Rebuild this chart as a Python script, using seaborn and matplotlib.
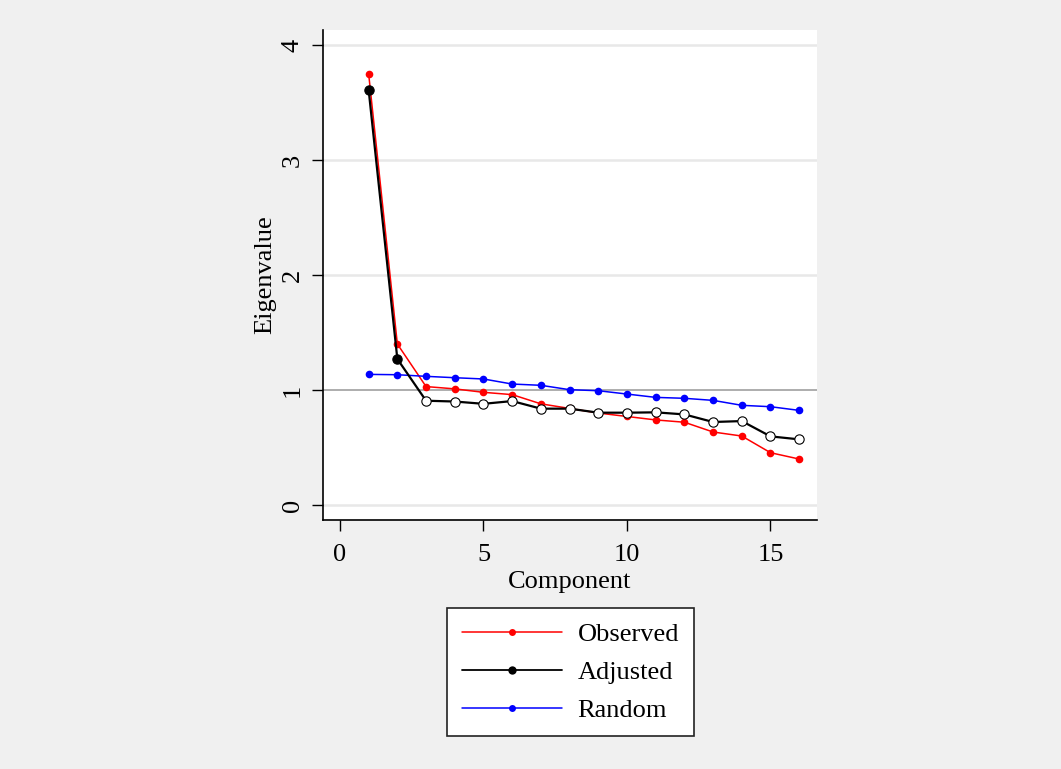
import numpy as np
import pandas as pd
import matplotlib
matplotlib.use("Agg")
import matplotlib.pyplot as plt
from matplotlib.lines import Line2D
import seaborn as sns

components = list(range(1, 17))
observed = [3.75, 1.40, 1.03, 1.01, 0.98, 0.96, 0.88, 0.84, 0.80, 0.77, 0.74, 0.72, 0.635, 0.60, 0.455, 0.40]
adjusted = [3.61, 1.27, 0.907, 0.90, 0.88, 0.904, 0.838, 0.838, 0.803, 0.803, 0.806, 0.788, 0.722, 0.73, 0.597, 0.571]
random_ev = [1.136, 1.133, 1.119, 1.107, 1.096, 1.052, 1.041, 1.003, 0.994, 0.965, 0.936, 0.928, 0.91, 0.867, 0.855, 0.823]
series_names = ["Observed", "Adjusted", "Random"]
series_colors = ["#ff0000", "#000000", "#0000ff"]

sns.set_theme(style="white")
plt.rcParams['font.family'] = ['Liberation Serif', 'DejaVu Serif']
plt.rcParams.update({"text.color": "black", "axes.labelcolor": "black",
                     "xtick.color": "black", "ytick.color": "black"})

fig = plt.figure(figsize=(10.61, 7.69), dpi=100, facecolor="#f0f0f0")
ax = fig.add_axes([323/1061, 1-520/769, (817-323)/1061, (520-30)/769])
ax.set_facecolor("white")

for yv in [0, 2, 3, 4]:
    ax.axhline(yv, color="#e8e8e8", lw=1.8, zorder=0)
ax.axhline(1, color="#a0a0a0", lw=1.2, zorder=1)

df = pd.DataFrame({"Component": components, "Observed": observed,
                   "Adjusted": adjusted, "Random": random_ev})

sns.lineplot(data=df, x="Component", y="Observed", color="#ff0000", lw=1.1,
             marker="o", markersize=5.5, markeredgewidth=0, ax=ax, zorder=3)
sns.lineplot(data=df, x="Component", y="Random", color="#0000ff", lw=1.1,
             marker="o", markersize=5.5, markeredgewidth=0, ax=ax, zorder=3)
sns.lineplot(data=df, x="Component", y="Adjusted", color="#000000", lw=1.6,
             ax=ax, zorder=4)
retained = df[df["Adjusted"] > 1]
dropped = df[df["Adjusted"] <= 1]
sns.scatterplot(data=retained, x="Component", y="Adjusted", color="black",
                s=45, edgecolor="black", linewidth=0.8, ax=ax, zorder=5)
sns.scatterplot(data=dropped, x="Component", y="Adjusted", color="white",
                s=45, edgecolor="black", linewidth=0.8, ax=ax, zorder=5)

ax.set_xlim(-0.59, 16.62)
ax.set_ylim(-0.13, 4.13)
ax.set_xticks([0, 5, 10, 15])
ax.set_yticks([0, 1, 2, 3, 4])
ax.tick_params(axis="both", which="both", direction="out", length=8, width=1,
               color="black", labelsize=19, left=True, bottom=True, pad=6)
ax.tick_params(axis="x", pad=9)
for lab in ax.get_yticklabels():
    lab.set_rotation(90)
    lab.set_va("center")
for s in ["top", "right"]:
    ax.spines[s].set_visible(False)
for s in ["left", "bottom"]:
    ax.spines[s].set_visible(True)
    ax.spines[s].set_color("black")
    ax.spines[s].set_linewidth(1.2)
ax.set_xlabel("Component", fontsize=19, labelpad=4)
ax.set_ylabel("Eigenvalue", fontsize=19, labelpad=4)

handles = [Line2D([], [], color=c, lw=1.3 if n == "Adjusted" else 1.1, marker="o",
                  markersize=6 if n == "Adjusted" else 5, markeredgewidth=0)
           for n, c in zip(series_names, series_colors)]
leg = fig.legend(handles, series_names, loc="upper left",
                 bbox_to_anchor=(447/1061, 1-608/769), fontsize=19,
                 frameon=True, fancybox=False, edgecolor="#222222",
                 facecolor="white", framealpha=1, handlelength=3.8,
                 handletextpad=0.6, labelspacing=0.55, borderpad=0.55,
                 borderaxespad=0, markerfirst=True)
leg.get_frame().set_linewidth(1.2)

fig.savefig("out.png", dpi=100, facecolor=fig.get_facecolor())
